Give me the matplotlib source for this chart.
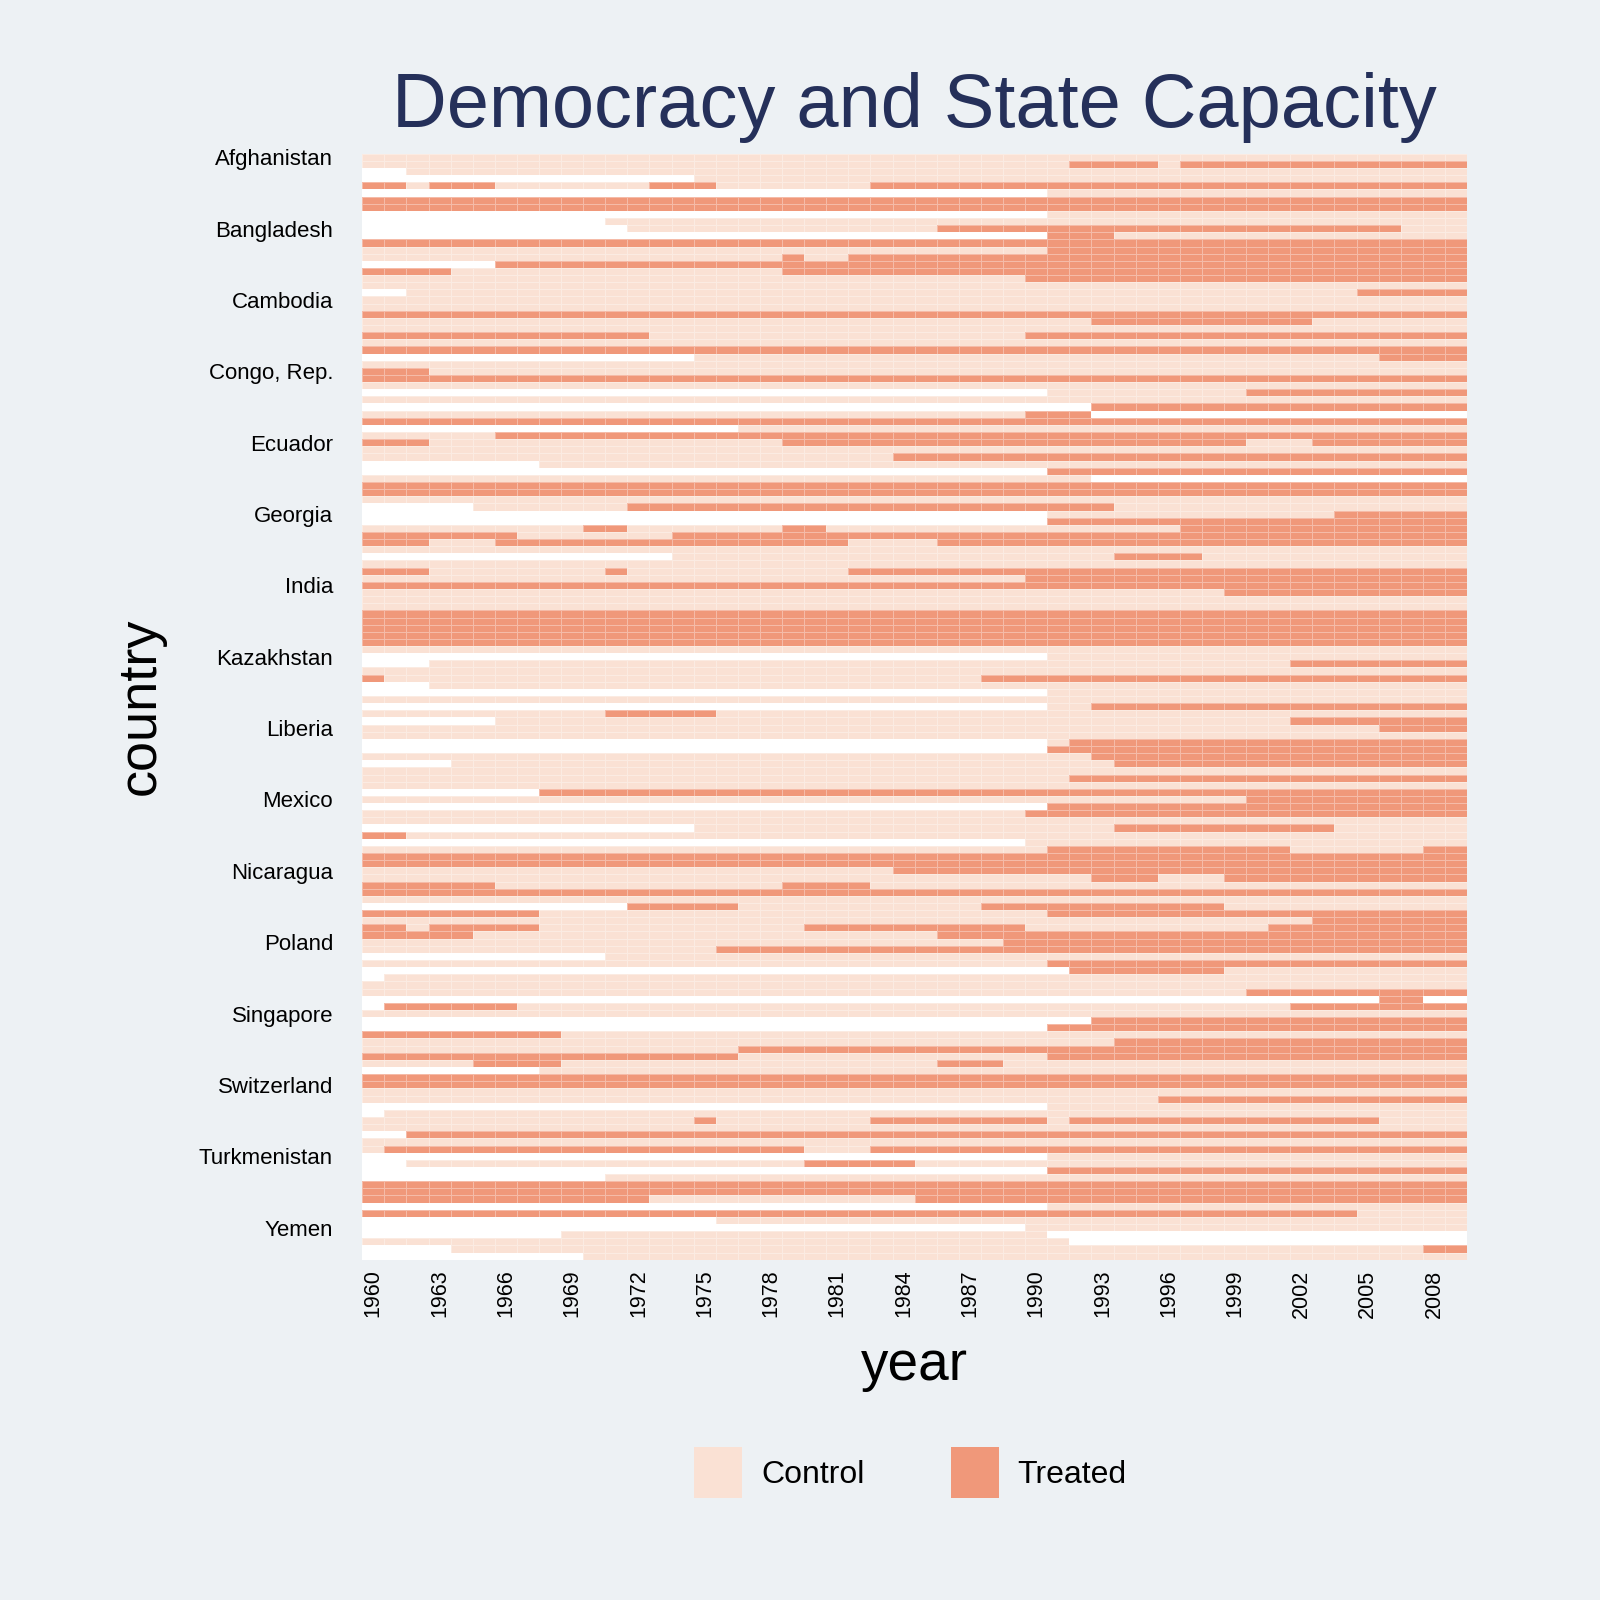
import matplotlib.pyplot as plt
import numpy as np
from matplotlib.colors import ListedColormap, BoundaryNorm
from matplotlib.patches import Patch

plt.rcParams['font.family'] = ['Liberation Sans', 'DejaVu Sans']

years = np.arange(1960, 2010)
label_countries = ["Afghanistan", "Bangladesh", "Cambodia", "Congo, Rep.", "Ecuador",
                   "Georgia", "India", "Kazakhstan", "Liberia", "Mexico", "Nicaragua",
                   "Poland", "Singapore", "Switzerland", "Turkmenistan", "Yemen"]
label_step = 10

# treatment status by country (rows) and year, run-length coded:
# w = missing, c = control, t = treated
status_runs = [
    "c50", "c32 t4 c1 t13", "w2 c48", "w15 c35", "t2 c1 t3 c7 t3 c7 t27",
    "w31 c19", "t50", "t50", "w31 c19", "w11 c39",
    "w12 c14 t21 c3", "w31 t3 c16", "t50", "c31 t19", "c19 t1 c2 t28",
    "w6 t44", "t4 c15 t31", "c30 t20", "c50", "w2 c43 t5",
    "c50", "c50", "t50", "c33 t10 c7", "c50",
    "t13 c17 t20", "c50", "t50", "w15 c31 t4", "c50",
    "t3 c47", "t50", "c50", "w31 c9 t10", "c50",
    "w33 t17", "c30 t3 w17", "t50", "w17 c33", "c6 t44",
    "t3 c16 t21 c3 t7", "c50", "c24 t26", "w8 c42", "w31 t19",
    "c33 w17", "t50", "t50", "c50", "w5 c7 t22 c16",
    "w31 c13 t6", "w31 t19", "c10 t2 c7 t2 c16 t13", "t7 c7 t36", "t3 c3 t16 c4 t24",
    "c50", "w14 c20 t4 c12", "c50", "t3 c8 t1 c10 t28", "c30 t20",
    "t50", "c39 t11", "c50", "c50", "t50",
    "t50", "t50", "t50", "t50", "c50",
    "w31 c19", "w3 c39 t8", "c50", "t1 c27 t22", "w3 c47",
    "w31 c19", "c50", "w31 c2 t17", "c11 t5 c34", "w6 c36 t8",
    "c46 t4", "c50", "w31 c1 t18", "w31 t19", "c33 t17",
    "w4 c30 t16", "c50", "c32 t18", "c50", "w8 t42",
    "c40 t10", "w31 t19", "c30 t20", "c50", "w15 c19 t10 c6",
    "t2 c48", "w30 c20", "c31 t11 c6 t2", "t50", "t50",
    "c24 t26", "c33 t3 c3 t11", "t6 c13 t4 c27", "t50", "c50",
    "w12 t5 c11 t11 c11", "t8 c23 t19", "c43 t7", "t2 c1 t5 c12 t10 c11 t9", "t5 c21 t24",
    "c29 t21", "c16 t34", "w11 c39", "c31 t19", "w32 t7 c11",
    "w1 c49", "c50", "c40 t10", "w46 t2 w2", "w1 t6 c35 t8",
    "c50", "w33 t17", "w31 t19", "t9 c41", "c34 t16",
    "c17 t33", "t17 c14 t19", "c5 t4 c17 t3 c21", "w8 c42", "t50",
    "t50", "c50", "c36 t14", "w31 c19", "w1 c49",
    "c15 t1 c7 t8 c1 t14 c4", "c50", "w2 t48", "c50", "c1 t19 c3 t27",
    "w31 c19", "w2 c18 t5 c25", "w31 t19", "w11 c39", "t50",
    "t50", "t13 c12 t25", "w31 c19", "t45 c5", "w16 c34",
    "w30 c20", "w9 c22 w19", "c32 w18", "w4 c44 t2", "w10 c40",
]

codes = {"w": 0, "c": 1, "t": 2}


def expand(runs):
    row = []
    for tok in runs.split():
        row += [codes[tok[0]]] * int(tok[1:])
    return row


status = np.array([expand(r) for r in status_runs])
n_rows = status.shape[0]

bg = "#EDF1F4"
fig = plt.figure(figsize=(16, 16), dpi=100, facecolor=bg)
ax = fig.add_axes([0.2264, 0.2127, 0.6905, 0.6912])

cmap = ListedColormap(["#FFFFFF", "#FAE1D4", "#F0987A"])
norm = BoundaryNorm([-0.5, 0.5, 1.5, 2.5], cmap.N)
xedges = np.append(years - 0.5, years[-1] + 0.5)
yedges = np.arange(n_rows + 1)
ax.pcolormesh(xedges, yedges, status, cmap=cmap, norm=norm,
              edgecolors=(1, 1, 1, 0.35), linewidth=0.5)
ax.set_xlim(xedges[0], xedges[-1])
ax.set_ylim(n_rows, 0)

ax.set_xticks(years[::3])
ax.set_xticklabels([str(y) for y in years[::3]], rotation=90)
ax.set_yticks(np.arange(0, n_rows, label_step)[:len(label_countries)] + 0.5)
ax.set_yticklabels(label_countries, va='center_baseline')
ax.tick_params(axis='x', length=0, pad=7, labelsize=15.5)
ax.tick_params(axis='y', length=0, pad=21, labelsize=16)
for s in ax.spines.values():
    s.set_visible(False)

fig.text(0.5713, 0.9205, "Democracy and State Capacity", fontsize=54.5,
         color="#25305A", ha='center', va='baseline')
fig.text(0.5717, 0.1375, "year", fontsize=39.5, ha='center', va='baseline')
fig.text(0.088, 0.5583, "country", fontsize=39, ha='center', va='center',
         rotation=90)

handles = [Patch(facecolor="#FAE1D4", label="Control"),
           Patch(facecolor="#F0987A", label="Treated")]
fig.legend(handles=handles, loc='center', bbox_to_anchor=(0.569, 0.0797), ncol=2,
           frameon=False, fontsize=23, handlelength=1.5, handleheight=2.1,
           handletextpad=0.6, columnspacing=2.7)

fig.savefig("out.png", dpi=100)
